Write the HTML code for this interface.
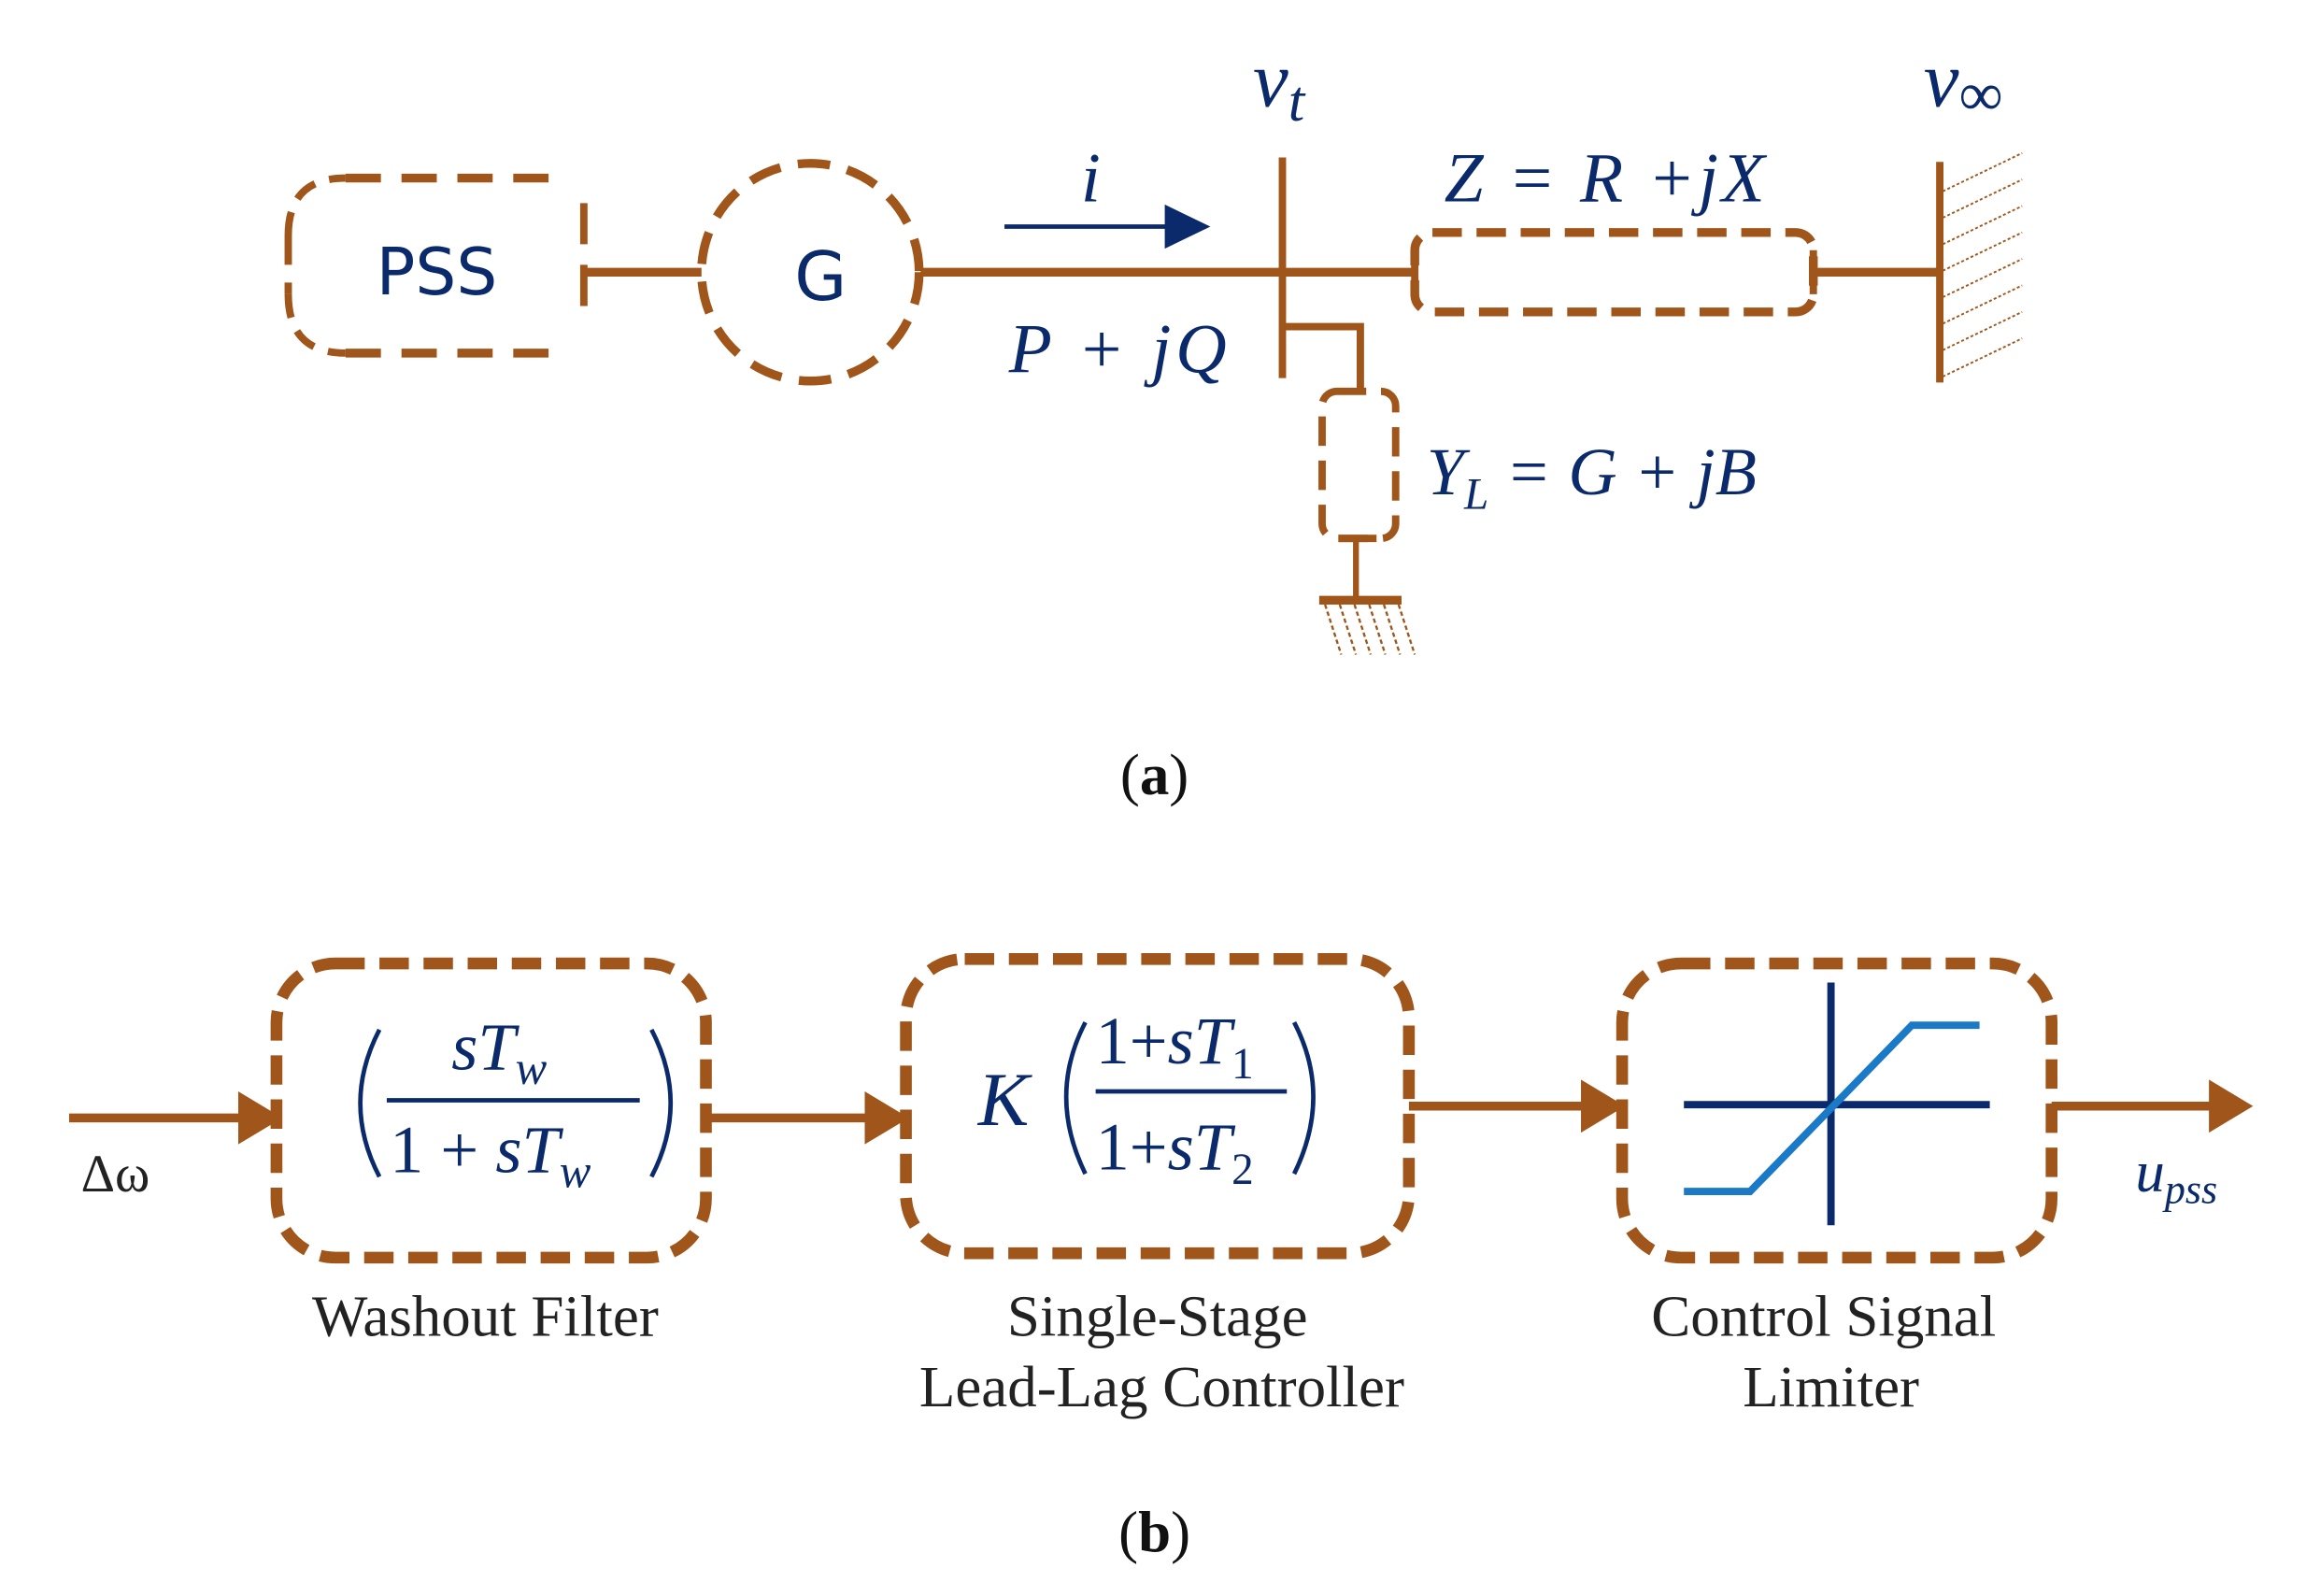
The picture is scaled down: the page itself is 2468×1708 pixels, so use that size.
<!DOCTYPE html>
<html><head><meta charset="utf-8"><style>
html,body{margin:0;padding:0;background:#fff}
svg{display:block}
.t{font-family:"Liberation Serif",serif;fill:#0b2a6b}
.s{font-family:"DejaVu Sans","Liberation Sans",sans-serif;fill:#0b2a6b}
.cap{font-family:"Liberation Serif",serif;fill:#111}
</style></head><body>
<svg width="2468" height="1708" viewBox="0 0 1568 1085" xmlns="http://www.w3.org/2000/svg">
<g stroke="#a0561a" fill="none" stroke-linecap="butt">
<path d="M235 121 H380" stroke-width="6" stroke-dasharray="24 14"/>
<path d="M235 240 H380" stroke-width="6" stroke-dasharray="24 14"/>
<path d="M196 160 V200" stroke-width="5" stroke-dasharray="20 12"/>
<path d="M196 160 Q196 121 235 121 M196 200 Q196 240 235 240" stroke-width="5" stroke-dasharray="16 10"/>
<path d="M397 138 V222" stroke-width="5" stroke-dasharray="28 14"/>
<path d="M397 185 H477" stroke-width="6"/>
<circle cx="551" cy="185" r="74" stroke-width="6" stroke-dasharray="22 12"/>
<path d="M626 185 H960" stroke-width="6"/>
<path d="M872 107 V257" stroke-width="5"/>
<rect x="962" y="158" width="271" height="54" rx="12" stroke-width="6" stroke-dasharray="20 10"/>
<path d="M962 170 V200 M1233 170 V200" stroke-width="5"/>
<path d="M1233 185 H1318" stroke-width="6"/>
<path d="M1319 110 V260" stroke-width="5"/>
<g stroke-width="1.2" stroke-dasharray="2 1.5">
<path d="M1321 130 L1375 104 M1321 148 L1375 122 M1321 166 L1375 140 M1321 184 L1375 158 M1321 202 L1375 176 M1321 220 L1375 194 M1321 238 L1375 212 M1321 256 L1375 230"/>
</g>
<path d="M872 222 H925 V266" stroke-width="5"/>
<rect x="899" y="266" width="50" height="100" rx="10" stroke-width="5" stroke-dasharray="20 10"/>
<path d="M910 366 H936" stroke-width="5"/>
<path d="M922 366 V408" stroke-width="4"/>
<path d="M897 408 H953" stroke-width="6"/>
<g stroke-width="1.5" stroke-dasharray="3 2">
<path d="M901 411 L912 445 M911 411 L922 445 M921 411 L932 445 M931 411 L942 445 M941 411 L952 445 M951 411 L962 445"/>
</g>
</g>
<path d="M683 154 H796" stroke="#0b2a6b" stroke-width="3"/>
<path d="M792 139 L823 154 L792 169 Z" fill="#0b2a6b"/>
<text class="s" x="297" y="200" font-size="44" text-anchor="middle">PSS</text>
<text class="s" x="558" y="204" font-size="46" text-anchor="middle">G</text>
<text class="t" x="735" y="137" font-size="48" font-style="italic">i</text>
<text class="t" x="852" y="72" font-size="54" font-style="italic">v<tspan font-size="40" dy="10">t</tspan></text>
<text class="t" x="1308" y="72" font-size="54" font-style="italic">v<tspan font-size="42" dy="6" font-style="normal">∞</tspan></text>
<text class="t" x="982" y="137" font-size="48" font-style="italic" textLength="218" lengthAdjust="spacing">Z = R +jX</text>
<text class="t" x="686" y="253" font-size="48" font-style="italic" textLength="148" lengthAdjust="spacing">P + jQ</text>
<text class="t" x="970" y="336" font-size="46" font-style="italic">Y<tspan font-size="30" dy="10">L</tspan><tspan dy="-10"> = G + jB</tspan></text>
<text class="cap" x="785" y="540" font-size="40" text-anchor="middle">(<tspan font-weight="bold">a</tspan>)</text>

<g stroke="#a0561a" fill="none">
<rect x="188" y="655" width="292" height="200" rx="40" stroke-width="8" stroke-dasharray="20 10"/>
<rect x="616" y="652" width="342" height="200" rx="40" stroke-width="8" stroke-dasharray="20 10"/>
<rect x="1103" y="655" width="292" height="200" rx="40" stroke-width="8" stroke-dasharray="20 10"/>
<path d="M47 760 H165" stroke-width="6"/>
<path d="M480 760 H592" stroke-width="6"/>
<path d="M958 752 H1078" stroke-width="6"/>
<path d="M1395 752 H1505" stroke-width="6"/>
</g>
<g fill="#a0561a">
<path d="M162 742 L192 760 L162 778 Z"/>
<path d="M588 742 L618 760 L588 778 Z"/>
<path d="M1075 734 L1105 752 L1075 770 Z"/>
<path d="M1502 734 L1532 752 L1502 770 Z"/>
</g>
<g stroke="#0b2a6b" fill="none" stroke-width="3">
<path d="M258 700 Q232 750 258 800"/>
<path d="M443 700 Q469 750 443 800"/>
<path d="M738 695 Q712 745 738 798"/>
<path d="M880 695 Q906 745 880 798"/>
</g>
<path d="M263 748 H435" stroke="#0b2a6b" stroke-width="3"/>
<text class="t" x="307" y="727" font-size="46" font-style="italic">sT<tspan font-size="32" dy="10">w</tspan></text>
<text class="t" x="265" y="797" font-size="46">1 + <tspan font-style="italic">sT</tspan><tspan font-size="32" dy="10" font-style="italic">w</tspan></text>
<text class="t" x="665" y="765" font-size="52" font-style="italic">K</text>
<path d="M745 742 H875" stroke="#0b2a6b" stroke-width="3"/>
<text class="t" x="745" y="723" font-size="46">1+<tspan font-style="italic">sT</tspan><tspan font-size="30" dy="10">1</tspan></text>
<text class="t" x="745" y="795" font-size="46">1+<tspan font-style="italic">sT</tspan><tspan font-size="30" dy="10">2</tspan></text>
<path d="M1245 668 V833 M1145 751 H1353" stroke="#0b2a6b" stroke-width="5"/>
<path d="M1145 810 H1190 L1300 697 H1346" stroke="#1a7ac8" stroke-width="5" fill="none"/>
<text class="t" x="55" y="810" font-size="36" style="fill:#222">Δω</text>
<text class="t" x="1452" y="810" font-size="40" font-style="italic">u<tspan font-size="28" dy="8">pss</tspan></text>
<g class="cap" font-size="40" text-anchor="middle" style="fill:#222">
<text x="330" y="908">Washout Filter</text>
<text x="787" y="908">Single-Stage</text>
<text x="790" y="956">Lead-Lag Controller</text>
<text x="1240" y="908">Control Signal</text>
<text x="1245" y="956">Limiter</text>
</g>
<text class="cap" x="785" y="1055" font-size="40" text-anchor="middle">(<tspan font-weight="bold">b</tspan>)</text>
</svg>
</body></html>
